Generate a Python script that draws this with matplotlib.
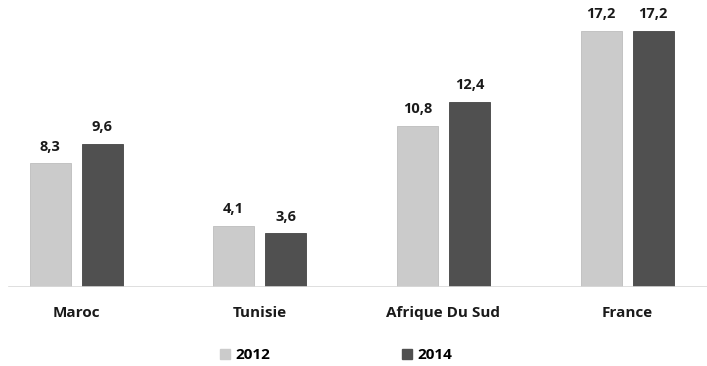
import numpy as np
import matplotlib.pyplot as plt
from matplotlib.patches import Patch

# Values per country, 2012 vs 2014
pays = ["Maroc", "Tunisie", "Afrique Du Sud", "France"]
val_2012 = [8.3, 4.1, 10.8, 17.2]
val_2014 = [9.6, 3.6, 12.4, 17.2]
annees = ["2012", "2014"]

col_2012 = "#cbcbcb"
col_2014 = "#505050"

plt.rcParams['font.family'] = ['Open Sans', 'DejaVu Sans']

fig = plt.figure(figsize=(7.07, 3.66), dpi=100)
ax = fig.add_axes([0, 79 / 366, 1, 1 - 79 / 366])

x = np.arange(len(pays))
w = 0.223
off = 0.1415

b1 = ax.bar(x - off, val_2012, w, color=col_2012, edgecolor="#bdbdbd", linewidth=0.6)
b2 = ax.bar(x + off, val_2014, w, color=col_2014, edgecolor="#444444", linewidth=0.6)

for bars, vals in ((b1, val_2012), (b2, val_2014)):
    for r, v in zip(bars, vals):
        ax.annotate(f"{v:.1f}".replace(".", ","),
                    (r.get_x() + r.get_width() / 2, v),
                    xytext=(0, 7), textcoords="offset points",
                    ha="center", va="bottom", fontsize=10.5, fontweight="bold",
                    color="#1a1a1a")

ax.set_xlim(-0.414, 3.435)
ax.set_ylim(0, 19.25)
ax.axhline(0, xmin=9 / 707, xmax=1, color="#d9d9d9", lw=1.2)

for s in ax.spines.values():
    s.set_visible(False)
ax.set_yticks([])
ax.set_xticks(x)
ax.set_xticklabels(pays, fontsize=11, fontweight="bold", color="#1a1a1a")
ax.tick_params(axis="x", length=0, pad=14)

handles = [Patch(color=col_2012), Patch(color=col_2014)]
fig.legend(handles, annees, loc="center", bbox_to_anchor=(336 / 707, 1 - 355 / 366),
           ncol=2, frameon=False, columnspacing=8.65, handlelength=0.65,
           handleheight=0.65, handletextpad=0.35,
           prop={"size": 11, "weight": "bold"})

fig.savefig("out.png", dpi=100)
